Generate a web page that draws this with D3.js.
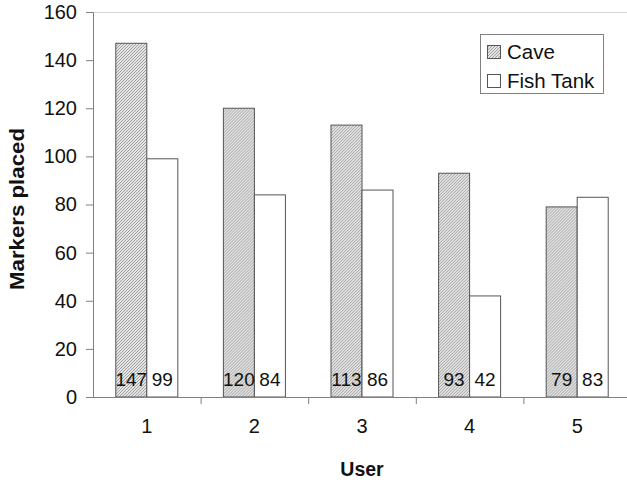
<!DOCTYPE html>
<html><head><meta charset="utf-8">
<script src="https://cdn.jsdelivr.net/npm/d3@7"></script>
<style>body{margin:0;background:#fff}svg{display:block;font-family:"Liberation Sans",Arial,sans-serif}</style>
</head><body><svg id="c" width="627" height="482"></svg>
<script>
const users = ["1","2","3","4","5"];
const series = ["Cave","Fish Tank"];
const cave = [147,120,113,93,79];
const fishTank = [99,84,86,42,83];
const yTicks = [0,20,40,60,80,100,120,140,160];

const svg = d3.select("#c");
const L=93, R=631, T=12, B=397;
const x = d3.scaleBand().domain(users).range([L,R]).paddingInner(0).paddingOuter(0);
const inner = d3.scaleBand().domain(series).range([0,x.bandwidth()]).paddingInner(0).paddingOuter(0.735);
const y = d3.scaleLinear().domain([0,160]).range([B,T]);

const defs = svg.append("defs");
const pat = defs.append("pattern").attr("id","hatch").attr("patternUnits","userSpaceOnUse")
  .attr("width",3).attr("height",3);
pat.append("rect").attr("width",3).attr("height",3).attr("fill","#e4e4e4");
pat.append("path").attr("d","M-1,1 L1,-1 M0,3 L3,0 M2,4 L4,2").attr("stroke","#9a9a9a").attr("stroke-width",0.9);

// top line
svg.append("line").attr("x1",L).attr("x2",627).attr("y1",T+0.5).attr("y2",T+0.5).attr("stroke","#d8d8d8");

const fills = {"Cave":"url(#hatch)","Fish Tank":"#fff"};
const data = users.map((u,i)=>({u, vals:[{s:"Cave",v:cave[i]},{s:"Fish Tank",v:fishTank[i]}]}));

const g = svg.append("g").selectAll("g").data(data).join("g").attr("transform",d=>`translate(${x(d.u)},0)`);
g.selectAll("rect").data(d=>d.vals).join("rect")
  .attr("x",d=>inner(d.s)).attr("width",inner.bandwidth())
  .attr("y",d=>y(d.v)).attr("height",d=>y(0)-y(d.v))
  .attr("fill",d=>fills[d.s]).attr("stroke","#555").attr("stroke-width",1);
g.selectAll("text").data(d=>d.vals).join("text")
  .attr("x",d=>inner(d.s)+inner.bandwidth()/2).attr("y",386)
  .attr("text-anchor","middle").attr("font-size",19).attr("fill","#111").text(d=>d.v);

// y axis
const ya = svg.append("g").attr("transform",`translate(${L},0)`)
  .call(d3.axisLeft(y).tickValues(yTicks).tickSize(7).tickPadding(9));
ya.select(".domain").attr("stroke","#808080");
ya.selectAll(".tick line").attr("stroke","#808080");
ya.selectAll("text").attr("font-size",20).attr("fill","#111").attr("font-family","Liberation Sans, Arial, sans-serif");

// x axis
const xa = svg.append("g").attr("transform",`translate(0,${B})`)
  .call(d3.axisBottom(x).tickSize(0).tickPadding(22));
xa.select(".domain").attr("stroke","#808080");
xa.selectAll("text").attr("font-size",20).attr("fill","#111").attr("font-family","Liberation Sans, Arial, sans-serif");
svg.append("g").selectAll("line").data(users.slice(1)).join("line")
  .attr("x1",d=>x(d)+0.5).attr("x2",d=>x(d)+0.5).attr("y1",B).attr("y2",B+7).attr("stroke","#808080");

// axis titles
svg.append("text").attr("x",362).attr("y",476).attr("text-anchor","middle")
  .attr("font-size",19.5).attr("font-weight","bold").attr("fill","#111").text("User");
svg.append("text").attr("transform","translate(24,209) rotate(-90)").attr("text-anchor","middle")
  .attr("font-size",20).attr("font-weight","bold").attr("fill","#111")
  .attr("textLength",162).attr("lengthAdjust","spacingAndGlyphs").text("Markers placed");

// legend
const lg = svg.append("g");
lg.append("rect").attr("x",480.5).attr("y",34.5).attr("width",123).attr("height",59).attr("fill","#fff").attr("stroke","#808080");
const li = lg.selectAll("g").data(series).join("g").attr("transform",(d,i)=>`translate(0,${52+i*29})`);
li.append("rect").attr("x",487.5).attr("y",-6.5).attr("width",13).attr("height",13).attr("fill",d=>fills[d]).attr("stroke","#555");
li.append("text").attr("x",507).attr("y",7).attr("font-size",20.5).attr("fill","#111").text(d=>d);
</script></body></html>
